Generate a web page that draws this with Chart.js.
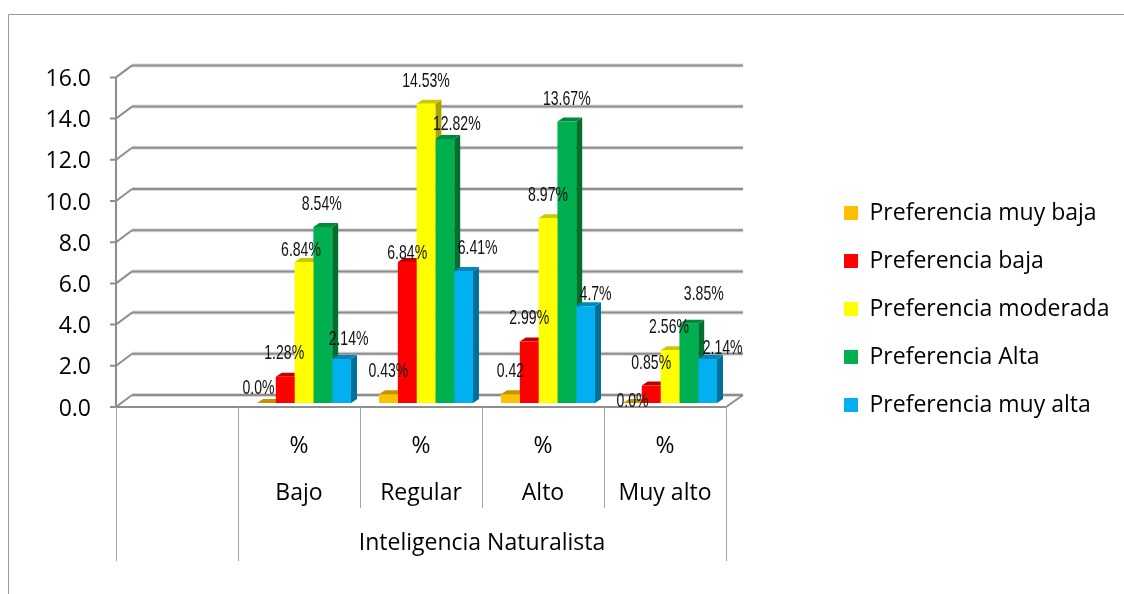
<!DOCTYPE html>
<html><head><meta charset="utf-8">
<style>html,body{margin:0;padding:0;background:#fff}canvas{display:block}</style>
<script src="https://cdn.jsdelivr.net/npm/chart.js@4/dist/chart.umd.min.js"></script>
</head><body><div style="width:1124px;height:594px;position:relative"><canvas id="c"></canvas></div>
<script>
const categories = ['', ['%','Bajo'], ['%','Regular'], ['%','Alto'], ['%','Muy alto']];
const groupTitle = 'Inteligencia Naturalista';
const yTicks = [0,2,4,6,8,10,12,14,16];
const seriesNames = ['Preferencia muy baja','Preferencia baja','Preferencia moderada','Preferencia Alta','Preferencia muy alta'];
const muyBaja   = [null, 0.0, 0.43, 0.42, 0.0];
const baja      = [null, 1.28, 6.84, 2.99, 0.85];
const moderada  = [null, 6.84, 14.53, 8.97, 2.56];
const alta      = [null, 8.54, 12.82, 13.67, 3.85];
const muyAlta   = [null, 2.14, 6.41, 4.7, 2.14];
const muyBajaText  = ['', '0.0%', '0.43%', '0.42', '0.0%'];
const bajaText     = ['', '1.28%', '6.84%', '2.99%', '0.85%'];
const moderadaText = ['', '6.84%', '14.53%', '8.97%', '2.56%'];
const altaText     = ['', '8.54%', '12.82%', '13.67%', '3.85%'];
const muyAltaText  = ['', '2.14%', '6.41%', '4.7%', '2.14%'];

const faces = [
  {front:'#FFC000', side:'#A67C00', top:'#C49400'},
  {front:'#FF0000', side:'#A00000', top:'#C00000'},
  {front:'#FFFF00', side:'#A8A400', top:'#CCC800'},
  {front:'#00B050', side:'#00702F', top:'#008A3E'},
  {front:'#00B0F0', side:'#00709A', top:'#0088B8'}
];
// label displacement from each bar's top centre [dx,dy], by series then category
const labelShift = [
  [null,[-8,-16],[0,-24],[0,-24],[0,-3]],
  [null,[-1,-24],[0,-10],[0,-24],[0,-23]],
  [null,[-3,-13],[0,-23],[0,-24],[-1,-24]],
  [null,[-1,-24],[12,-16],[0,-23],[15,-30]],
  [null,[7,-21],[14,-24],[10,-13],[15,-12]]
];
const labelSets = [muyBajaText, bajaText, moderadaText, altaText, muyAltaText];
const depthX = 6, depthY = 4;
const gridColor = '#8E8E8E', tableColor = '#A6A6A6';
const mainFont = '"Open Sans", "Noto Sans", sans-serif';
const fontSize = 23;

const frame3d = {
  id:'frame3d',
  afterLayout(chart){
    const lg = chart.legend;
    lg.left = 819; lg.right = 1124;
    lg.top += 1; lg.bottom += 1;
  },
  beforeDatasetsDraw(chart){
    const {ctx, scales:{x,y}} = chart;
    const fx0 = x.left - 5, fx1 = x.right - 5;
    const bx0 = fx0 + 16, bx1 = fx1 + 17;
    ctx.save();
    // outer frame
    ctx.strokeStyle = '#9A9A9A'; ctx.lineWidth = 1;
    ctx.beginPath(); ctx.moveTo(8.5,594); ctx.lineTo(8.5,14.5); ctx.lineTo(1124,14.5); ctx.stroke();
    // back wall grid, diagonals and outer ticks
    yTicks.forEach(v => {
      const p = y.getPixelForValue(v);
      ctx.strokeStyle = 'rgba(150,150,150,.35)'; ctx.lineWidth = 4;
      ctx.beginPath(); ctx.moveTo(bx0, p-8); ctx.lineTo(bx1, p-8); ctx.stroke();
      ctx.strokeStyle = gridColor; ctx.lineWidth = 2;
      ctx.beginPath(); ctx.moveTo(bx0, p-8); ctx.lineTo(bx1, p-8); ctx.stroke();
      ctx.beginPath(); ctx.moveTo(fx0-6, p+4); ctx.lineTo(fx0, p+4); ctx.lineTo(bx0, p-8); ctx.stroke();
    });
    // left axis, floor
    const y0 = y.getPixelForValue(0), y16 = y.getPixelForValue(16);
    ctx.beginPath(); ctx.moveTo(fx0, y16+4); ctx.lineTo(fx0, y0+4); ctx.lineTo(fx1, y0+4); ctx.lineTo(bx1, y0-8); ctx.stroke();
    // table lines under the axis
    ctx.strokeStyle = tableColor; ctx.lineWidth = 1;
    categories.concat(['']).forEach((c,i) => {
      const px = Math.round(fx0 + i*(x.width/categories.length)) + .5;
      const long = i===0 || i===1 || i===categories.length;
      ctx.beginPath(); ctx.moveTo(px, y0+4); ctx.lineTo(px, long ? 561 : 508); ctx.stroke();
    });
    // group title
    ctx.fillStyle = '#000'; ctx.font = fontSize+'px '+mainFont; ctx.textAlign='center'; ctx.textBaseline='middle';
    ctx.fillText(groupTitle, (fx0 + x.width/categories.length + fx1)/2, 543);
    // side and top faces, left to right
    chart.data.labels.forEach((_,i) => {
      chart.data.datasets.forEach((ds,d) => {
        if (ds.data[i]==null) return;
        const b = chart.getDatasetMeta(d).data[i];
        const l=b.x-b.width/2, r=b.x+b.width/2, t=b.y, bot=b.base;
        ctx.fillStyle = faces[d].side;
        ctx.beginPath(); ctx.moveTo(r,t); ctx.lineTo(r+depthX,t-depthY); ctx.lineTo(r+depthX,bot-depthY); ctx.lineTo(r,bot); ctx.closePath(); ctx.fill();
        ctx.fillStyle = faces[d].top;
        ctx.beginPath(); ctx.moveTo(l,t); ctx.lineTo(l+depthX,t-depthY); ctx.lineTo(r+depthX,t-depthY); ctx.lineTo(r,t); ctx.closePath(); ctx.fill();
      });
    });
    ctx.restore();
  },
  afterDatasetsDraw(chart){
    const {ctx} = chart;
    ctx.save();
    ctx.fillStyle='#111'; ctx.textAlign='center'; ctx.textBaseline='middle';
    ctx.font = '21px "Liberation Sans", sans-serif';
    labelSets.forEach((set,d) => set.forEach((txt,i) => {
      if (!txt) return;
      const b = chart.getDatasetMeta(d).data[i], s = labelShift[d][i];
      ctx.save();
      ctx.translate(b.x+s[0], b.y+s[1]+1);
      ctx.scale(.67,1);
      ctx.fillText(txt,0,0);
      ctx.restore();
    }));
    ctx.restore();
  }
};

new Chart(document.getElementById('c'), {
  type:'bar',
  plugins:[frame3d],
  data:{
    labels:categories,
    datasets:seriesNames.map((n,d)=>({
      label:n,
      data:[muyBaja,baja,moderada,alta,muyAlta][d],
      backgroundColor:faces[d].front,
      barPercentage:1, categoryPercentage:.77
    }))
  },
  options:{
    responsive:true, maintainAspectRatio:false, animation:false,
    layout:{autoPadding:false, padding:{left:0,top:73.4,right:149.3,bottom:51.4}},
    plugins:{
      tooltip:{enabled:false},
      legend:{position:'right',
        labels:{boxWidth:14,boxHeight:14,padding:25,color:'#000',font:{family:mainFont,size:fontSize}}}
    },
    scales:{
      x:{
        grid:{display:false}, border:{display:false},
        afterFit(s){s.height=139.6;},
        ticks:{color:'#000',font:{family:mainFont,size:fontSize,lineHeight:2.03},maxRotation:0,autoSkip:false,padding:12,labelOffset:-5}
      },
      y:{
        min:0,max:16,
        grid:{display:false}, border:{display:false},
        afterFit(s){s.width=121;},
        afterBuildTicks(s){s.ticks=yTicks.map(v=>({value:v}));},
        ticks:{color:'#000',font:{family:mainFont,size:fontSize},padding:22,labelOffset:6,callback:v=>Number(v).toFixed(1)}
      }
    }
  }
});
</script></body></html>
